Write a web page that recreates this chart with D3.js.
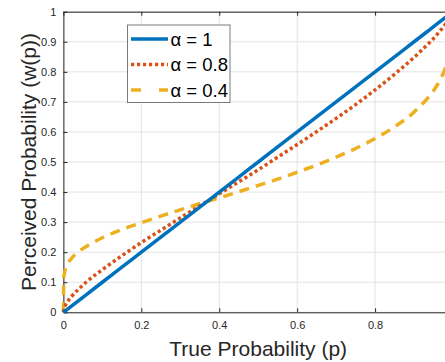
<!DOCTYPE html>
<html><head><meta charset="utf-8">
<script src="https://cdn.jsdelivr.net/npm/d3@7"></script>
<style>body{margin:0;background:#fff}svg{display:block}text{font-family:"Liberation Sans",Arial,sans-serif}</style>
</head><body><div id="chart"></div>
<script>
const pVals = [0,0.001,0.005,0.01,0.02,0.04,0.06,0.1,0.15,0.2,0.25,0.3,0.35,0.4,0.45,0.5,0.55,0.6,0.65,0.7,0.75,0.8,0.85,0.9,0.93,0.95,0.97,0.98,0.99,1];
const wAlpha1  = [0,0.001,0.005,0.01,0.02,0.04,0.06,0.1,0.15,0.2,0.25,0.3,0.35,0.4,0.45,0.5,0.55,0.6,0.65,0.7,0.75,0.8,0.85,0.9,0.93,0.95,0.97,0.98,0.99,1];
const wAlpha08 = [0,0.009,0.023,0.034,0.051,0.078,0.102,0.142,0.188,0.232,0.273,0.314,0.354,0.394,0.434,0.474,0.516,0.558,0.601,0.645,0.691,0.740,0.792,0.848,0.885,0.911,0.941,0.957,0.975,1];
const wAlpha04 = [0,0.115,0.143,0.159,0.178,0.203,0.220,0.248,0.275,0.298,0.320,0.341,0.361,0.381,0.401,0.422,0.443,0.466,0.490,0.516,0.545,0.578,0.617,0.666,0.705,0.737,0.781,0.811,0.853,1];
const seriesNames = ["α = 1","α = 0.8","α = 0.4"];
const xTicks = [0,0.2,0.4,0.6,0.8];
const yTicks = [0,0.1,0.2,0.3,0.4,0.5,0.6,0.7,0.8,0.9,1];

const W=445,H=362;
const svg=d3.select("#chart").append("svg").attr("width",W).attr("height",H);
const x=d3.scaleLinear().domain([0,1]).range([63.4,453]);
const y=d3.scaleLinear().domain([0,1]).range([312.3,11.7]);
const axc="#262626";

// grid
svg.append("g").selectAll("line.gx").data(xTicks).join("line")
  .attr("x1",d=>x(d)).attr("x2",d=>x(d)).attr("y1",y(0)).attr("y2",y(1))
  .attr("stroke","#e3e3e3").attr("stroke-width",1);
svg.append("g").selectAll("line.gy").data(yTicks).join("line")
  .attr("x1",x(0)).attr("x2",x(1)).attr("y1",d=>y(d)).attr("y2",d=>y(d))
  .attr("stroke","#e3e3e3").attr("stroke-width",1);

// axes
const xAxis=d3.axisBottom(x).tickValues(xTicks).tickFormat(d=>d===0?"0":d3.format(".1f")(d)).tickSizeInner(-4).tickSizeOuter(0).tickPadding(9);
const gx=svg.append("g").attr("transform",`translate(0,${y(0)})`).call(xAxis);
const yAxis=d3.axisLeft(y).tickValues(yTicks).tickFormat(d=>(d===0||d===1)?String(d):d3.format(".1f")(d)).tickSizeInner(-4).tickSizeOuter(0).tickPadding(7);
const gy=svg.append("g").attr("transform",`translate(${x(0)},0)`).call(yAxis);
const xTop=d3.axisTop(x).tickValues(xTicks).tickFormat("").tickSizeInner(-4).tickSizeOuter(0);
const gt=svg.append("g").attr("transform",`translate(0,${y(1)})`).call(xTop);
[gx,gy,gt].forEach(g=>{
  g.select(".domain").attr("stroke",axc).attr("stroke-width",1);
  g.selectAll(".tick line").attr("stroke",axc);
  g.selectAll(".tick text").attr("fill",axc).style("font-size","11px").style("font-family","'Liberation Sans',Arial,sans-serif");
});

// lines
const data=[wAlpha1,wAlpha08,wAlpha04];
const colors=["#0072BD","#D95319","#EDB120"];
const dashes=[null,"3.2,2.8","10,7"];
const widths=[3.5,3.5,3.5];
const line=d3.line().x((d,i)=>x(pVals[i])).y(d=>y(d)).curve(d3.curveMonotoneX);
const defs=svg.append("defs");
defs.append("clipPath").attr("id","clip").append("rect").attr("x",x(0)-2).attr("y",y(1)).attr("width",x(1)-x(0)+4).attr("height",y(0)-y(1)+2);
const lg=svg.append("g").attr("clip-path","url(#clip)");
[2,1,0].forEach(k=>{
  lg.append("path").datum(data[k]).attr("d",line).attr("fill","none")
    .attr("stroke",colors[k]).attr("stroke-width",widths[k])
    .attr("stroke-dasharray",dashes[k]);
});

// legend
const leg=svg.append("g");
leg.append("rect").attr("x",127.5).attr("y",25).attr("width",102.5).attr("height",77.5)
  .attr("fill","#fff").attr("stroke","#7a7a7a").attr("stroke-width",1);
const rowY=[39,64.5,90];
seriesNames.forEach((n,k)=>{
  leg.append("line").attr("x1",131).attr("x2",168).attr("y1",rowY[k]).attr("y2",rowY[k])
    .attr("stroke",colors[k]).attr("stroke-width",widths[k]).attr("stroke-dasharray",k===2?"10,18":dashes[k]);
  leg.append("text").attr("x",170.5).attr("y",rowY[k]+6.5).text(n).attr("fill","#000").style("font-size","18.5px");
});

// axis labels
svg.append("text").attr("x",(x(0)+x(1))/2).attr("y",356).attr("text-anchor","middle")
  .style("font-size","21px").attr("fill","#262626").text("True Probability (p)");
svg.append("text").attr("transform",`translate(36,${(y(0)+y(1))/2}) rotate(-90)`).attr("text-anchor","middle")
  .style("font-size","21px").attr("fill","#262626").text("Perceived Probability (w(p))");
</script></body></html>
